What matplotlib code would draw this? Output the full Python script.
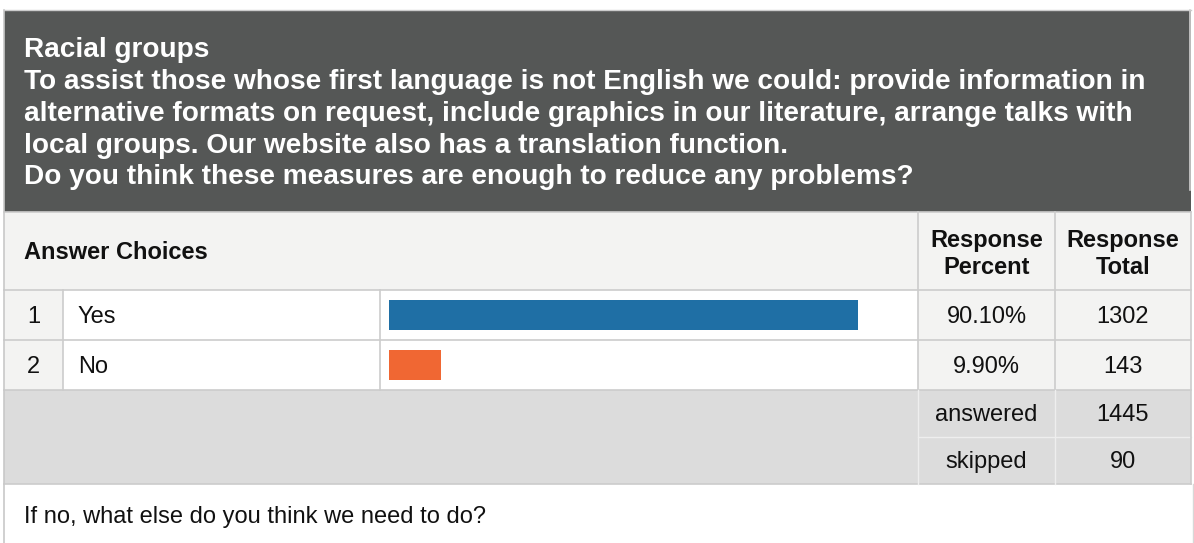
import matplotlib
matplotlib.use("Agg")
import matplotlib.pyplot as plt
from matplotlib.patches import Rectangle

plt.rcParams['font.family'] = ['Liberation Sans', 'DejaVu Sans']

title_lines = [
    "Racial groups",
    "To assist those whose first language is not English we could: provide information in",
    "alternative formats on request, include graphics in our literature, arrange talks with",
    "local groups. Our website also has a translation function.",
    "Do you think these measures are enough to reduce any problems?",
]
choices = ["Yes", "No"]
percents = [90.10, 9.90]
totals = [1302, 143]
bar_colors = ["#1f6fa5", "#f06733"]
summary_labels = ["answered", "skipped"]
summary_values = [1445, 90]
footer_text = "If no, what else do you think we need to do?"

W, H = 1194, 543
DARK = "#555756"
LIGHT = "#f3f3f2"
SUMMARY = "#dcdcdc"
LINE = "#cccccc"

# column edges (px)
x_left, x_num, x_lab, x_pct, x_tot, x_right = 4, 63, 380, 918, 1055, 1191
# row edges (px)
y_top, y_head, y_rows = 10, 212, 290
row_h = 49.75
y_sum = y_rows + row_h * len(choices)
sum_h = 47
y_foot = y_sum + sum_h * len(summary_labels)

fig = plt.figure(figsize=(W / 100, H / 100), dpi=100)
ax = fig.add_axes([0, 0, 1, 1])
ax.set_xlim(0, W)
ax.set_ylim(H, 0)
ax.axis("off")


def rect(x0, y0, x1, y1, color, z=0):
    ax.add_patch(Rectangle((x0, y0), x1 - x0, y1 - y0, facecolor=color,
                           edgecolor="none", zorder=z))


# title block
rect(x_left, y_top, x_right, y_head, DARK)
ax.plot([x_right - 1.5, x_right - 1.5], [y_top, y_head - 22], color="#d0d0d0", lw=1.2)
for i, line in enumerate(title_lines):
    ax.text(24, 57.3 + i * 31.75, line, color="white", fontsize=20.2,
            fontweight="bold", va="baseline", ha="left")

# column header row
rect(x_left, y_head, x_right, y_rows, LIGHT)
ax.text(24, (y_head + y_rows) / 2 + 8, "Answer Choices", fontsize=17,
        fontweight="bold", va="baseline", color="#111111")
for xc, lbl in [((x_pct + x_tot) / 2, "Response\nPercent"),
                ((x_tot + x_right) / 2, "Response\nTotal")]:
    top, bottom = lbl.split("\n")
    ax.text(xc, 246.7, top, fontsize=17, fontweight="bold",
            ha="center", va="baseline", color="#111111")
    ax.text(xc, 274, bottom, fontsize=17, fontweight="bold",
            ha="center", va="baseline", color="#111111")

# answer rows
for i, (name, pct, tot) in enumerate(zip(choices, percents, totals)):
    y0 = y_rows + i * row_h
    y1 = y0 + row_h
    yc = (y0 + y1) / 2 + 8
    rect(x_left, y0, x_num, y1, LIGHT)
    rect(x_num, y0, x_pct, y1, "white")
    rect(x_pct, y0, x_right, y1, LIGHT)
    ax.text((x_left + x_num) / 2, yc, str(i + 1), fontsize=17, ha="center",
            va="baseline", color="#111111")
    ax.text(78, yc, name, fontsize=17, ha="left", va="baseline", color="#111111")
    ax.text((x_pct + x_tot) / 2, yc, "%.2f%%" % pct, fontsize=17, ha="center",
            va="baseline", color="#111111")
    ax.text((x_tot + x_right) / 2, yc, str(tot), fontsize=17, ha="center",
            va="baseline", color="#111111")

# summary rows
rect(x_left, y_sum, x_right, y_foot, SUMMARY)
for i, (lbl, val) in enumerate(zip(summary_labels, summary_values)):
    y0 = y_sum + i * sum_h
    yc = y0 + sum_h / 2 + 8
    ax.text((x_pct + x_tot) / 2, yc, lbl, fontsize=17, ha="center",
            va="baseline", color="#111111")
    ax.text((x_tot + x_right) / 2, yc, str(val), fontsize=17, ha="center",
            va="baseline", color="#111111")

# grid lines
ax.plot([x_left, x_right], [y_top, y_top], color=LINE, lw=1)
ax.plot([x_left, x_right], [y_head, y_head], color=LINE, lw=1.2)
for k in range(len(choices) + 1):
    yy = y_rows + k * row_h
    ax.plot([x_left, x_right], [yy, yy], color=LINE, lw=1.2)
ax.plot([x_pct, x_right], [y_sum + sum_h, y_sum + sum_h], color="#eeeeee", lw=1)
ax.plot([x_left, x_right], [y_foot, y_foot], color=LINE, lw=1.2)
for xx in (x_num, x_lab):
    ax.plot([xx, xx], [y_rows, y_sum], color=LINE, lw=1.2)
for xx in (x_pct, x_tot):
    ax.plot([xx, xx], [y_head, y_sum], color=LINE, lw=1.2)
    ax.plot([xx, xx], [y_sum, y_foot], color="#eeeeee", lw=1)
ax.plot([x_left - 0.5, x_left - 0.5], [y_top, H], color="#c8c8c8", lw=1.2)
ax.plot([x_right, x_right], [y_head, y_foot], color=LINE, lw=1.2)
ax.plot([x_right + 1.5, x_right + 1.5], [y_foot, H], color="#d8d8d8", lw=1)

# footer question
ax.text(24, 523, footer_text, fontsize=17, ha="left", va="baseline",
        color="#111111")

# bars in their own axes: 0-100 % across the bar column
bar_x0, bar_w = 389, 520.5
bax = fig.add_axes([bar_x0 / W, (H - y_sum) / H, bar_w / W, (y_sum - y_rows) / H])
bax.barh(range(len(choices)), percents, height=0.6, color=bar_colors)
bax.set_xlim(0, 100)
bax.set_ylim(len(choices) - 0.5, -0.5)
bax.axis("off")

fig.savefig("out.png", dpi=100)
